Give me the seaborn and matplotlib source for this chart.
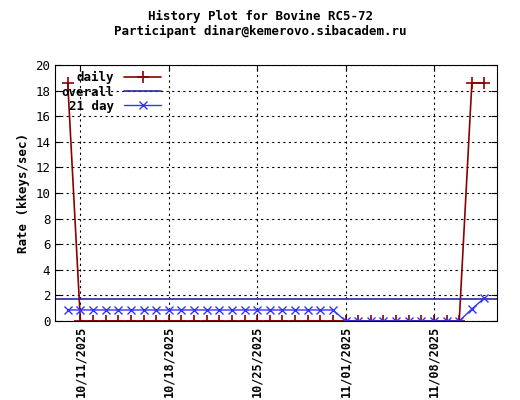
import matplotlib
matplotlib.use("Agg")
import matplotlib.pyplot as plt
import matplotlib.dates as mdates
import seaborn as sns
import pandas as pd

sns.set_style("white")
plt.rcParams['font.family'] = ['DejaVu Sans Mono']
plt.rcParams['text.color'] = 'black'
plt.rcParams['axes.labelcolor'] = 'black'
plt.rcParams['xtick.color'] = 'black'
plt.rcParams['ytick.color'] = 'black'

dates = pd.date_range("2025-10-10", "2025-11-12", freq="D")
daily = [18.6] + [0.0]*31 + [18.6, 18.6]
day21 = [0.86]*22 + [0.0]*10 + [0.94, 1.8]
overall_value = 1.72

df = pd.DataFrame({"date": dates, "daily": daily, "day21": day21})

fig = plt.figure(figsize=(5.2, 4), dpi=100)
ax = fig.add_axes([0.106, 0.1975, 0.85, 0.64])
sns.lineplot(data=df, x="date", y="daily", ax=ax, color="#8b0000", lw=1.2,
             marker="+", markersize=8, mew=1.2, markeredgecolor="#8b0000",
             label="daily")
ax.axhline(overall_value, color="#2a2a9a", lw=1.2, label="overall")
sns.lineplot(data=df, x="date", y="day21", ax=ax, color="#3333ff", lw=1,
             marker="x", markersize=6, mew=1, markeredgecolor="#3333ff",
             label="21 day")

ax.set_xlim(pd.Timestamp("2025-10-09"), pd.Timestamp("2025-11-13"))
ax.set_ylim(0, 20)
ax.set_yticks(range(0, 21, 2))
ticks = [pd.Timestamp(d) for d in ["2025-10-11", "2025-10-18", "2025-10-25", "2025-11-01", "2025-11-08"]]
ax.set_xticks(ticks)
ax.xaxis.set_major_formatter(mdates.DateFormatter("%m/%d/%Y"))
plt.setp(ax.get_xticklabels(), rotation=90, fontsize=8.5, fontweight="bold")
plt.setp(ax.get_yticklabels(), fontsize=9)
ax.grid(True, color="black", ls=(0, (2, 3)), lw=0.8)
ax.tick_params(direction="in", length=4, left=True, bottom=True, right=True, top=True)
for s in ax.spines.values():
    s.set_color("black")
ax.set_xlabel("")
ax.set_ylabel("Rate (kkeys/sec)", fontsize=9, fontweight="bold")
fig.suptitle("History Plot for Bovine RC5-72\nParticipant dinar@kemerovo.sibacadem.ru",
             fontsize=9, fontweight="bold", y=0.975)
leg = ax.legend(loc="upper left", frameon=False, fontsize=9, markerfirst=False,
                handlelength=3, borderaxespad=0.1, labelspacing=0.1)
for t in leg.get_texts():
    t.set_ha("right"); t.set_fontweight("bold")
fig.savefig("out.png", dpi=100)
